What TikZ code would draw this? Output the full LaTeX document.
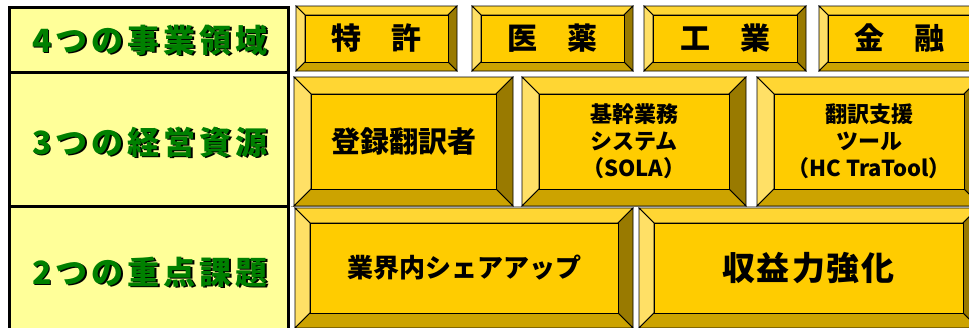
\documentclass[tikz,border=0pt]{standalone}
\usepackage{fontspec}
\setmainfont{Noto Sans CJK JP}
\definecolor{face}{HTML}{FFCC00}
\definecolor{bvtop}{HTML}{FFD633}
\definecolor{bvleft}{HTML}{FFE066}
\definecolor{bvright}{HTML}{997A00}
\definecolor{bvbot}{HTML}{CCA300}
\definecolor{tabfill}{HTML}{FFFF99}
\definecolor{lblgreen}{HTML}{008000}
\tikzset{
  bevline/.style={draw=black, line width=0.8pt, line join=miter},
  boxtext/.style={inner sep=0pt, align=center, text=black, font=\bfseries},
  lbl/.style={inner sep=0pt, text=lblgreen, font=\bfseries\fontsize{32}{36}\selectfont},
  lblshadow/.style={inner sep=0pt, text=black, font=\bfseries\fontsize{32}{36}\selectfont},
}
% #1 name, #2 x1, #3 y1, #4 x2, #5 y2, #6 bevel depth, #7 font size, #8 text
\newcommand\bevelbox[8]{%
  \filldraw[bevline, fill=bvtop] (#2,#3) -- (#4,#3) -- (#4-#6,#3+#6) -- (#2+#6,#3+#6) -- cycle;
  \filldraw[bevline, fill=bvleft] (#2,#3) -- (#2+#6,#3+#6) -- (#2+#6,#5-#6) -- (#2,#5) -- cycle;
  \filldraw[bevline, fill=bvright] (#4,#3) -- (#4,#5) -- (#4-#6,#5-#6) -- (#4-#6,#3+#6) -- cycle;
  \filldraw[bevline, fill=bvbot] (#2,#5) -- (#2+#6,#5-#6) -- (#4-#6,#5-#6) -- (#4,#5) -- cycle;
  \filldraw[bevline, fill=face] (#2+#6,#3+#6) rectangle (#4-#6,#5-#6);
  \node[boxtext, font=\bfseries\fontsize{#7}{27}\selectfont] (#1) at ({(#2+#4)/2},{(#3+#5)/2}) {#8};
}
\newcommand\ks{\kern4pt}
\begin{document}
\begin{tikzpicture}[x=1pt, y=-1pt]
\useasboundingbox (0,0) rectangle (969,327);
\clip (0,0) rectangle (969,327);
% left table
\fill[tabfill] (9.5,7.5) rectangle (288.5,332);
\draw[line width=3pt] (9.5,7.5) rectangle (288.5,332);
\draw[line width=3pt] (9.5,72.5) -- (288.5,72.5);
\draw[line width=3pt] (9.5,206) -- (288.5,206);
% grid line on the right
\coordinate (gl) at (291,206.5);
\coordinate (gr) at (969,206.5);
\draw[gray!70, line width=1.5pt] (gl) -- (gr);
% labels
\node[lblshadow] (l4s) at (151.5,41.5) {4\ks つ\ks の\ks 事\ks 業\ks 領\ks 域};
\node[lbl] (l4) at (150,40) {4\ks つ\ks の\ks 事\ks 業\ks 領\ks 域};
\node[lblshadow] (l3s) at (151.5,143.5) {3\ks つ\ks の\ks 経\ks 営\ks 資\ks 源};
\node[lbl] (l3) at (150,142) {3\ks つ\ks の\ks 経\ks 営\ks 資\ks 源};
\node[lblshadow] (l2s) at (151.5,273.5) {2\ks つ\ks の\ks 重\ks 点\ks 課\ks 題};
\node[lbl] (l2) at (150,272) {2\ks つ\ks の\ks 重\ks 点\ks 課\ks 題};
% row 1
\bevelbox{patent}{296}{6}{457}{71}{9}{30}{特　許}
\bevelbox{pharma}{472}{6}{633}{71}{9}{30}{医　薬}
\bevelbox{industry}{644}{6}{806}{71}{9}{30}{工　業}
\bevelbox{finance}{819}{6}{980}{71}{9}{30}{金　融}
% row 2
\bevelbox{translators}{294}{77}{513}{206}{17}{29}{登録翻訳者}
\bevelbox{sola}{522}{77}{746}{206}{17}{22}{基幹業務\\システム\\（SOLA）}
\bevelbox{tool}{757}{77}{981}{206}{17}{22}{翻訳支援\\ツール\\（HC TraTool）}
% row 3
\bevelbox{share}{295}{208}{633}{328}{15}{26}{業界内シェアアップ}
\bevelbox{profit}{639}{208}{978}{328}{15}{33}{収\kern2pt 益\kern2pt 力\kern2pt 強\kern2pt 化}
\end{tikzpicture}
\end{document}
